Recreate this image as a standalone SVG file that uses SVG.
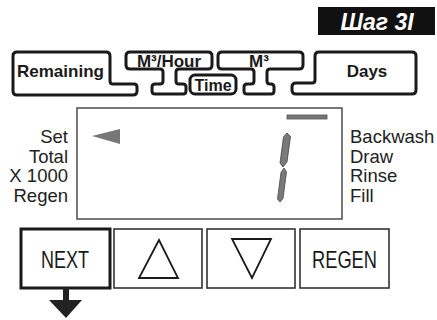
<svg xmlns="http://www.w3.org/2000/svg" width="437" height="320" viewBox="0 0 437 320">
<style>
.tab{fill:#fff;stroke:#1a1a1a;stroke-width:3;stroke-linejoin:round}
.tt{font-family:"Liberation Sans",Arial,sans-serif;font-weight:bold;fill:#1a1a1a}
.lbl{font-family:"Liberation Sans",Arial,sans-serif;font-size:18.5px;fill:#222}
.btn{fill:#fff;stroke:#333;stroke-width:1.6}
.bt{font-family:"Liberation Sans",Arial,sans-serif;font-size:24px;fill:#1a1a1a}
.seg{fill:#7a7a7a;stroke:#444;stroke-width:0.8}
</style>
<rect width="437" height="320" fill="#fff"/>
<g id="step">
<rect x="318" y="7" width="117" height="28" fill="#111"/>
<text x="377" y="30" text-anchor="middle" font-family="Liberation Sans,Arial,sans-serif" font-size="23" font-weight="bold" font-style="italic" fill="#fff">Шаг 3I</text>
</g>
<g id="remaining">
<path class="tab" d="M17,52 H106 Q110,52 110,56 V81 Q110,84 113,84 H134 Q137,84 137,87 V91 Q137,95 133,95 H17 Q13,95 13,91 V56 Q13,52 17,52 Z"/>
<text class="tt" x="17" y="77" font-size="17">Remaining</text>
</g>
<g id="m3hour">
<path class="tab" d="M130,52 H208 Q212,52 212,56 V65 Q212,69 208,69 H179 Q176,69 176,72 V81 Q176,84 179,84 H183 Q186,84 186,87 V91 Q186,94 183,94 H155 Q152,94 152,91 V87 Q152,84 155,84 H160 Q163,84 163,81 V72 Q163,69 160,69 H130 Q126,69 126,65 V56 Q126,52 130,52 Z"/>
<text class="tt" x="169" y="67" font-size="17" text-anchor="middle">M³/Hour</text>
</g>
<g id="m3">
<path class="tab" d="M222,52 H299 Q303,52 303,56 V65 Q303,69 299,69 H270 Q267,69 267,72 V81 Q267,84 270,84 H271 Q274,84 274,87 V91 Q274,94 271,94 H247 Q244,94 244,91 V87 Q244,84 247,84 H251 Q254,84 254,81 V72 Q254,69 251,69 H222 Q218,69 218,65 V56 Q218,52 222,52 Z"/>
<text class="tt" x="259" y="67" font-size="17" text-anchor="middle">M³</text>
</g>
<g id="time">
<rect class="tab" x="190" y="75" width="46" height="19" rx="5"/>
<text class="tt" x="213" y="91" font-size="16" text-anchor="middle">Time</text>
</g>
<g id="days">
<path class="tab" d="M319,52 H412 Q416,52 416,56 V90 Q416,94 412,94 H296 Q292,94 292,90 V87 Q292,83 296,83 H312 Q315,83 315,80 V56 Q315,52 319,52 Z"/>
<text class="tt" x="367" y="77" font-size="17" text-anchor="middle">Days</text>
</g>
<g id="display">
<rect x="77" y="108" width="265" height="111" fill="#fff" stroke="#555" stroke-width="1.6"/>
<polygon points="92,136 120,129 120,144" fill="#777"/>
<rect x="287" y="115" width="40" height="4" fill="#777" stroke="#555" stroke-width="0.8"/>
<polygon class="seg" points="287,133 290.5,136.5 287,162 283,167 280,163 283.5,137"/>
<polygon class="seg" points="284,168 286.5,172 283,198.5 280,202 277.5,199 281,172.5"/>
</g>
<g id="labels-left" class="lbl" text-anchor="end">
<text x="68" y="143">Set</text>
<text x="68" y="162.5">Total</text>
<text x="68" y="182">X 1000</text>
<text x="68" y="201.5">Regen</text>
</g>
<g id="labels-right" class="lbl">
<text x="350" y="143">Backwash</text>
<text x="350" y="162.5">Draw</text>
<text x="350" y="182">Rinse</text>
<text x="350" y="201.5">Fill</text>
</g>
<g id="next">
<rect x="21" y="229" width="89" height="59" fill="#fff" stroke="#1a1a1a" stroke-width="3"/>
<text class="bt" x="41" y="268" textLength="48" lengthAdjust="spacingAndGlyphs">NEXT</text>
</g>
<g id="up">
<rect class="btn" x="114" y="229" width="88" height="59"/>
<polygon points="159,240 139,278 178,278" fill="none" stroke="#1a1a1a" stroke-width="1.8" stroke-linejoin="miter"/>
</g>
<g id="down">
<rect class="btn" x="207" y="229" width="88" height="59"/>
<polygon points="232,239 271,239 252,278" fill="none" stroke="#1a1a1a" stroke-width="1.8"/>
</g>
<g id="regen">
<rect class="btn" x="300" y="229" width="89" height="59"/>
<text class="bt" x="312" y="268" textLength="65" lengthAdjust="spacingAndGlyphs">REGEN</text>
</g>
<g id="connectors">
<rect x="63" y="288" width="6" height="13" fill="#222"/>
<polygon points="49,300 82,300 66,318" fill="#222"/>
</g>
</svg>
